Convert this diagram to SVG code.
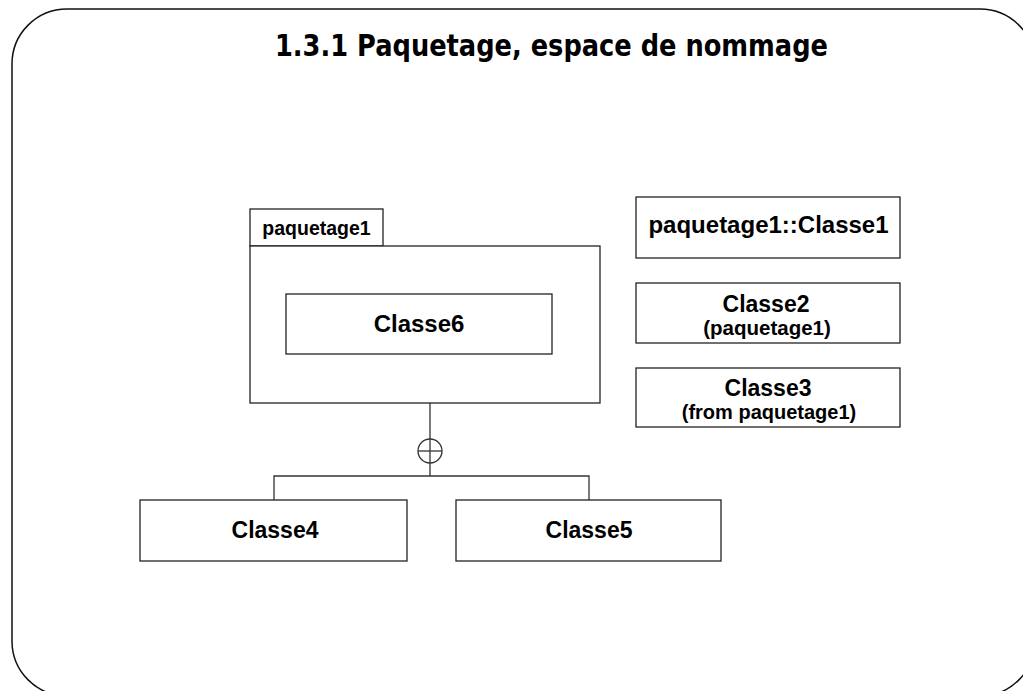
<svg xmlns="http://www.w3.org/2000/svg" width="1023" height="691" viewBox="0 0 1023 691">
<style>
.frame{fill:none;stroke:#111;stroke-width:1.5}
.box{fill:#fff;stroke:#222;stroke-width:1.3}
.ln{fill:none;stroke:#333;stroke-width:1.3}
.t{font-family:"Liberation Sans",Arial,sans-serif;font-weight:bold;fill:#000;text-anchor:middle}
.title{font-family:"DejaVu Sans","Liberation Sans",sans-serif;font-weight:bold;font-size:30px;text-anchor:middle}
</style>
<rect width="1023" height="691" fill="#fff"/>
<rect class="frame" x="12" y="9" width="1023" height="687" rx="55" ry="55"/>
<text class="title" x="551.5" y="56" textLength="553" lengthAdjust="spacingAndGlyphs">1.3.1 Paquetage, espace de nommage</text>
<g id="connectors">
<line class="ln" x1="430" y1="403" x2="430" y2="476"/>
<circle class="ln" cx="430" cy="451" r="12"/>
<line class="ln" x1="418" y1="451" x2="442" y2="451"/>
<polyline class="ln" points="274,500 274,476 589,476 589,500"/>
</g>
<g id="paquetage1">
<rect class="box" x="250" y="209" width="133" height="37"/>
<rect class="box" x="250" y="246" width="350" height="157"/>
<text class="t" x="316.5" y="235" font-size="19.5">paquetage1</text>
</g>
<g id="classe6">
<rect class="box" x="286" y="294" width="266" height="60"/>
<text class="t" x="419" y="332" font-size="24">Classe6</text>
</g>
<g id="classe1">
<rect class="box" x="636" y="197" width="264" height="61"/>
<text class="t" x="768.5" y="233" font-size="24">paquetage1::Classe1</text>
</g>
<g id="classe2">
<rect class="box" x="636" y="283" width="264" height="60"/>
<text class="t" x="766" y="312" font-size="23">Classe2</text>
<text class="t" x="767" y="335" font-size="20.5">(paquetage1)</text>
</g>
<g id="classe3">
<rect class="box" x="636" y="368" width="264" height="59"/>
<text class="t" x="768" y="396" font-size="23">Classe3</text>
<text class="t" x="769" y="419" font-size="20">(from paquetage1)</text>
</g>
<g id="classe4">
<rect class="box" x="140" y="500" width="267" height="61"/>
<text class="t" x="275" y="538" font-size="23">Classe4</text>
</g>
<g id="classe5">
<rect class="box" x="456" y="500" width="265" height="61"/>
<text class="t" x="589" y="538" font-size="23">Classe5</text>
</g>
</svg>
